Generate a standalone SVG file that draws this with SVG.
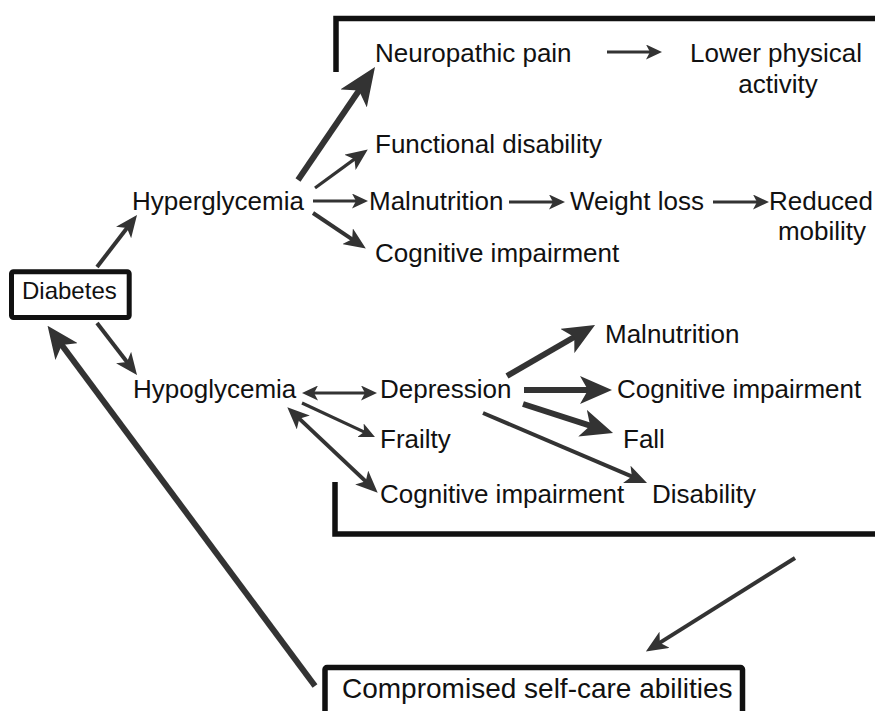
<svg xmlns="http://www.w3.org/2000/svg" width="875" height="711" viewBox="0 0 875 711">
<style>
text{font-family:"Liberation Sans",Arial,sans-serif;font-size:26px;fill:#111}
.mid{text-anchor:middle}
.box{fill:#fff;stroke:#111;stroke-width:5}
.br{fill:none;stroke:#111;stroke-width:5.5}
.c{stroke:#333;fill:none;stroke-linecap:butt}
.t{stroke-width:3.2}
.m{stroke-width:4}
.k{stroke-width:6}
</style>
<defs>
<marker id="sm" viewBox="0 0 20 20" refX="10" refY="10" markerWidth="16" markerHeight="15" markerUnits="userSpaceOnUse" orient="auto-start-reverse" preserveAspectRatio="none"><path d="M0,0 L20,10 L0,20 L5,10 z" fill="#333"/></marker>
<marker id="md" viewBox="0 0 20 20" refX="10" refY="10" markerWidth="22" markerHeight="19" markerUnits="userSpaceOnUse" orient="auto-start-reverse" preserveAspectRatio="none"><path d="M0,0 L20,10 L0,20 L5,10 z" fill="#333"/></marker>
<marker id="lg" viewBox="0 0 20 20" refX="10" refY="10" markerWidth="32" markerHeight="28" markerUnits="userSpaceOnUse" orient="auto-start-reverse" preserveAspectRatio="none"><path d="M0,0 L20,10 L0,20 L5,10 z" fill="#333"/></marker>
<marker id="xl" viewBox="0 0 20 20" refX="10" refY="10" markerWidth="38" markerHeight="32" markerUnits="userSpaceOnUse" orient="auto-start-reverse" preserveAspectRatio="none"><path d="M0,0 L20,10 L0,20 L5,10 z" fill="#333"/></marker>
</defs>
<rect width="875" height="711" fill="#fff"/>
<g id="brackets">
<path class="br" d="M336,72 V18.5 H875"/>
<path class="br" d="M335,482 V534 H875"/>
</g>
<g id="connectors">
<line class="c m" x1="97" y1="267" x2="130.3" y2="223.7" marker-end="url(#md)"/>
<line class="c m" x1="97" y1="323" x2="130.3" y2="366.3" marker-end="url(#md)"/>
<line class="c k" x1="298" y1="180" x2="364.3" y2="82.7" marker-end="url(#xl)"/>
<line class="c t" x1="315" y1="188" x2="358.9" y2="155.9" marker-end="url(#md)"/>
<line class="c t" x1="313" y1="201" x2="360" y2="201" marker-end="url(#sm)"/>
<line class="c m" x1="313" y1="213" x2="356.7" y2="242.4" marker-end="url(#md)"/>
<line class="c t" x1="607" y1="52" x2="654" y2="52" marker-end="url(#sm)"/>
<line class="c t" x1="509" y1="202" x2="557" y2="202" marker-end="url(#sm)"/>
<line class="c t" x1="713" y1="202" x2="761" y2="202" marker-end="url(#sm)"/>
<line class="c t" x1="310" y1="393" x2="369" y2="393" marker-start="url(#sm)" marker-end="url(#sm)"/>
<line class="c t" x1="302" y1="403" x2="367.7" y2="433.6" marker-end="url(#sm)"/>
<line class="c m" x1="295.3" y1="414.9" x2="369.7" y2="485.1" marker-start="url(#md)" marker-end="url(#md)"/>
<line class="c k" x1="507" y1="376" x2="581.2" y2="333" marker-end="url(#lg)"/>
<line class="c k" x1="524" y1="390" x2="596" y2="390" marker-end="url(#lg)"/>
<line class="c k" x1="523" y1="404" x2="597.8" y2="428.1" marker-end="url(#lg)"/>
<line class="c m" x1="483" y1="413" x2="636.9" y2="478.7" marker-end="url(#md)"/>
<line class="c k" x1="315" y1="686" x2="57.1" y2="338.7" marker-end="url(#lg)"/>
<line class="c m" x1="795" y1="558" x2="655.2" y2="645.6" marker-end="url(#md)"/>
</g>
<g id="diabetes"><rect class="box" x="11.5" y="271.8" width="117.7" height="45.7" rx="2"/><text x="22" y="299" style="font-size:24px">Diabetes</text></g>
<g id="hyperglycemia"><text x="132" y="210">Hyperglycemia</text></g>
<g id="neuropathic-pain"><text x="375" y="62">Neuropathic pain</text></g>
<g id="lower-physical-activity"><text class="mid" x="776" y="62">Lower physical</text><text class="mid" x="778" y="93">activity</text></g>
<g id="functional-disability"><text x="375" y="153">Functional disability</text></g>
<g id="malnutrition-1"><text x="369" y="210">Malnutrition</text></g>
<g id="weight-loss"><text x="570" y="210">Weight loss</text></g>
<g id="reduced-mobility"><text class="mid" x="821" y="210">Reduced</text><text class="mid" x="822" y="240">mobility</text></g>
<g id="cognitive-impairment-1"><text x="375" y="262">Cognitive impairment</text></g>
<g id="hypoglycemia"><text x="133" y="398">Hypoglycemia</text></g>
<g id="depression"><text x="380" y="398">Depression</text></g>
<g id="frailty"><text x="380" y="448">Frailty</text></g>
<g id="cognitive-impairment-2"><text x="380" y="503">Cognitive impairment</text></g>
<g id="disability"><text x="652" y="503">Disability</text></g>
<g id="malnutrition-2"><text x="605" y="343">Malnutrition</text></g>
<g id="cognitive-impairment-3"><text x="617" y="398">Cognitive impairment</text></g>
<g id="fall"><text x="623" y="448">Fall</text></g>
<g id="self-care"><rect class="box" x="325" y="667.5" width="417.5" height="60" rx="2" style="stroke-width:5.5"/><text x="342" y="698" style="font-size:28px">Compromised self-care abilities</text></g>
</svg>
